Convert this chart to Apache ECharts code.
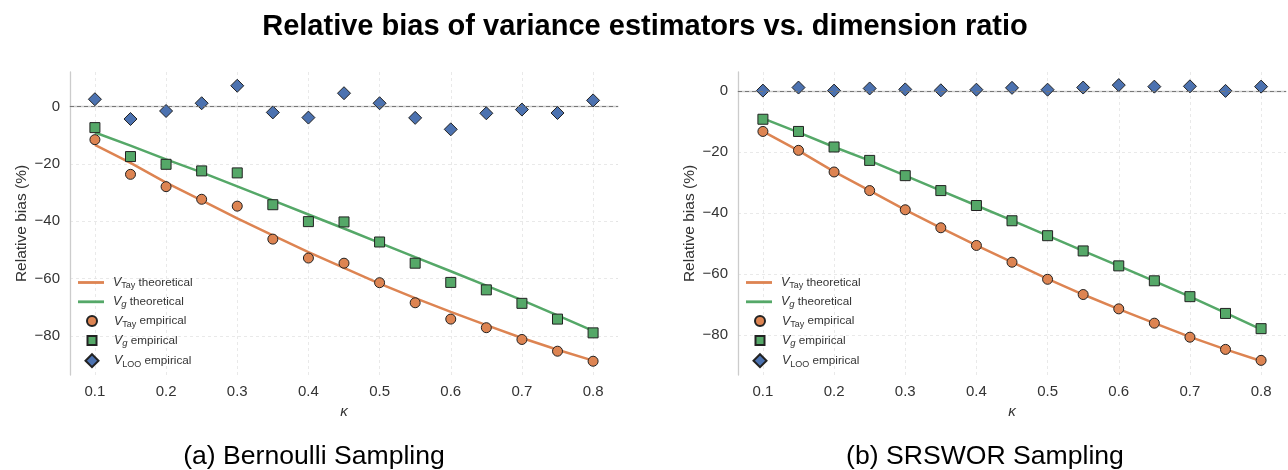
<!DOCTYPE html>
<html>
<head>
<meta charset="utf-8">
<script src="https://cdn.jsdelivr.net/npm/echarts@6/dist/echarts.min.js"></script>
<style>
  html, body { margin: 0; padding: 0; background: #fff; }
  #chart { width: 1288px; height: 470px; }
</style>
</head>
<body>
<div id="chart"></div>
<script>
// kappa values (x)
const kappa = [0.1, 0.15, 0.2, 0.25, 0.3, 0.35, 0.4, 0.45, 0.5, 0.55, 0.6, 0.65, 0.7, 0.75, 0.8];

// theoretical curves (same in both panels)
const tayTheory = [-13.3, -19.6, -26.5, -32.7, -39.0, -44.9, -50.7, -56.2, -61.7, -66.8, -71.6, -76.2, -80.7, -84.8, -88.6];
const gTheory = [-9.0, -13.6, -18.4, -22.9, -27.8, -32.7, -37.6, -42.5, -47.5, -52.5, -57.4, -62.4, -67.5, -72.8, -78.2];

// (a) Bernoulli sampling, empirical
const bernTayEmp = [-11.5, -23.6, -27.9, -32.3, -34.7, -46.2, -52.8, -54.6, -61.4, -68.4, -74.1, -77.1, -81.2, -85.3, -88.8];
const bernGEmp = [-7.3, -17.4, -20.1, -22.4, -23.1, -34.2, -40.1, -40.2, -47.2, -54.6, -61.3, -63.9, -68.6, -74.1, -78.9];
const bernLooEmp = [2.6, -4.3, -1.5, 1.2, 7.3, -2.0, -3.8, 4.7, 1.2, -3.9, -7.9, -2.3, -1.0, -2.2, 2.2];

// (b) SRSWOR sampling, empirical
const srsTayEmp = [-13.3, -19.5, -26.6, -32.7, -39.0, -44.9, -50.7, -56.2, -61.8, -66.8, -71.5, -76.2, -80.8, -84.8, -88.4];
const srsGEmp = [-9.3, -13.3, -18.4, -22.8, -27.8, -32.7, -37.6, -42.6, -47.5, -52.5, -57.4, -62.3, -67.5, -73.0, -78.0];
const srsLooEmp = [0.1, 1.1, 0.1, 0.8, 0.5, 0.2, 0.4, 1.0, 0.4, 1.1, 1.9, 1.4, 1.5, 0.0, 1.4];

const ORANGE = '#DD8452', GREEN = '#55A868', BLUE = '#4C72B0';
const FONT = '"Liberation Sans", Arial, sans-serif';

const pairs = ys => kappa.map((k, i) => [k, ys[i]]);

const names = ['Tay theoretical', 'g theoretical', 'Tay empirical', 'g empirical', 'LOO empirical'];
const legendText = {
  'Tay theoretical': '{v|V}{s|Tay}{t| theoretical}',
  'g theoretical': '{v|V}{si|g}{t| theoretical}',
  'Tay empirical': '{v|V}{s|Tay}{t| empirical}',
  'g empirical': '{v|V}{si|g}{t| empirical}',
  'LOO empirical': '{v|V}{s|LOO}{t| empirical}'
};
// legend icon per row: shape, height and drawn width
const legendIcons = [
  { icon: 'path://M0,0h24v2.6h-24z', h: 3, w: 26 },
  { icon: 'path://M0,0h24v2.6h-24z', h: 3, w: 26 },
  { icon: 'circle', h: 10, w: 10 },
  { icon: 'path://M0,0h10v10h-10z', h: 9, w: 9 },
  { icon: 'path://M5,0L10,5L5,10L0,5Z', h: 13, w: 13 }
];
const legendRowY = [284, 303.3, 322.6, 341.9, 361.2];

const fmtMinus = v => (v < 0 ? '\u2212' + Math.abs(v) : String(v));

const makeAxes = (idx, ymin, ymax) => ({
  x: {
    type: 'value', gridIndex: idx, min: 0.065, max: 0.835,
    minInterval: 0.1, maxInterval: 0.1,
    name: 'κ', nameLocation: 'middle', nameGap: 23,
    nameTextStyle: { fontFamily: FONT, fontSize: 15, fontStyle: 'italic', color: '#333' },
    axisLine: { lineStyle: { color: '#cccccc', width: 1.3 } },
    axisTick: { show: false },
    axisLabel: { fontFamily: FONT, fontSize: 15, color: '#333', margin: 9, showMinLabel: false, showMaxLabel: false },
    splitLine: { show: true, showMinLine: false, showMaxLine: false, lineStyle: { color: '#e4e4e4', type: [3, 3], width: 0.8 } }
  },
  y: {
    type: 'value', gridIndex: idx, min: ymin, max: ymax,
    minInterval: 20, maxInterval: 20,
    name: 'Relative bias (%)', nameLocation: 'middle', nameGap: 40, nameRotate: 90,
    nameTextStyle: { fontFamily: FONT, fontSize: 15.5, color: '#333' },
    axisLine: { show: true, lineStyle: { color: '#cccccc', width: 1.3 } },
    axisTick: { show: false },
    axisLabel: { fontFamily: FONT, fontSize: 15, color: '#333', margin: 10, formatter: fmtMinus, showMinLabel: false, showMaxLabel: false },
    splitLine: { show: true, showMinLine: false, showMaxLine: false, lineStyle: { color: '#e4e4e4', type: [3, 3], width: 0.8 } }
  }
});

const makeSeries = (idx, tayEmp, gEmp, looEmp) => [
  {
    name: names[0], type: 'line', xAxisIndex: idx, yAxisIndex: idx, data: pairs(tayTheory),
    symbol: 'none', lineStyle: { color: ORANGE, width: 2.5 }, itemStyle: { color: ORANGE, borderWidth: 0 }, z: 2,
    markLine: {
      silent: true, symbol: 'none', label: { show: false },
      lineStyle: { color: '#777', type: [4, 3], width: 1 },
      data: [{ yAxis: 0 }]
    }
  },
  {
    name: names[1], type: 'line', xAxisIndex: idx, yAxisIndex: idx, data: pairs(gTheory),
    symbol: 'none', lineStyle: { color: GREEN, width: 2.5 }, itemStyle: { color: GREEN, borderWidth: 0 }, z: 2
  },
  {
    name: names[2], type: 'scatter', xAxisIndex: idx, yAxisIndex: idx, data: pairs(tayEmp),
    symbol: 'circle', symbolSize: 10, z: 3,
    itemStyle: { color: ORANGE, borderColor: '#222', borderWidth: 1, opacity: 1 }
  },
  {
    name: names[3], type: 'scatter', xAxisIndex: idx, yAxisIndex: idx, data: pairs(gEmp),
    symbol: 'rect', symbolSize: 10, z: 3,
    itemStyle: { color: GREEN, borderColor: '#222', borderWidth: 1, opacity: 1 }
  },
  {
    name: names[4], type: 'scatter', xAxisIndex: idx, yAxisIndex: idx, data: pairs(looEmp),
    symbol: 'diamond', symbolSize: 13, z: 3,
    itemStyle: { color: BLUE, borderColor: '#222', borderWidth: 1, opacity: 1 }
  }
];

// one small legend per row so each icon can have its own size;
// the legend box is placed by its drawn bounds, so shift by the empty icon margin
const makeLegends = left => names.map((n, i) => ({
  orient: 'vertical', left: left + (26 - legendIcons[i].w) / 2, top: legendRowY[i] - 8, padding: 0,
  itemWidth: 26, itemHeight: legendIcons[i].h,
  data: [{ name: n, icon: legendIcons[i].icon }], selectedMode: false,
  formatter: nm => legendText[nm],
  textStyle: {
    fontFamily: FONT, color: '#333', fontSize: 11.7, padding: [0, 0, 0, 4],
    rich: {
      v: { fontFamily: FONT, fontSize: 12.5, fontStyle: 'italic', color: '#333', lineHeight: 16 },
      s: { fontFamily: FONT, fontSize: 9, color: '#333', verticalAlign: 'bottom', lineHeight: 9 },
      si: { fontFamily: FONT, fontSize: 9.5, fontStyle: 'italic', color: '#333', verticalAlign: 'bottom', lineHeight: 9 },
      t: { fontFamily: FONT, fontSize: 11.7, color: '#333', lineHeight: 16 }
    }
  }
}));

const axA = makeAxes(0, -93.6, 12.1);
const axB = makeAxes(1, -93.2, 6.2);

const chart = echarts.init(document.getElementById('chart'), null, { renderer: 'canvas' });
chart.setOption({
  backgroundColor: '#fff',
  animation: false,
  title: [
    { text: 'Relative bias of variance estimators vs. dimension ratio', left: 640, top: 7, textAlign: 'center',
      textStyle: { fontFamily: FONT, fontSize: 29, fontWeight: 'bold', color: '#000' } },
    { text: '(a) Bernoulli Sampling', left: 309, top: 438, textAlign: 'center',
      textStyle: { fontFamily: FONT, fontSize: 26.6, fontWeight: 'normal', color: '#000' } },
    { text: '(b) SRSWOR Sampling', left: 980, top: 438, textAlign: 'center',
      textStyle: { fontFamily: FONT, fontSize: 26.6, fontWeight: 'normal', color: '#000' } }
  ],
  grid: [
    { left: 70, top: 72, width: 548, height: 303 },
    { left: 738, top: 72, width: 548, height: 303 }
  ],
  xAxis: [axA.x, axB.x],
  yAxis: [axA.y, axB.y],
  legend: [...makeLegends(78), ...makeLegends(746)],
  series: [
    ...makeSeries(0, bernTayEmp, bernGEmp, bernLooEmp),
    ...makeSeries(1, srsTayEmp, srsGEmp, srsLooEmp)
  ]
});
</script>
</body>
</html>
